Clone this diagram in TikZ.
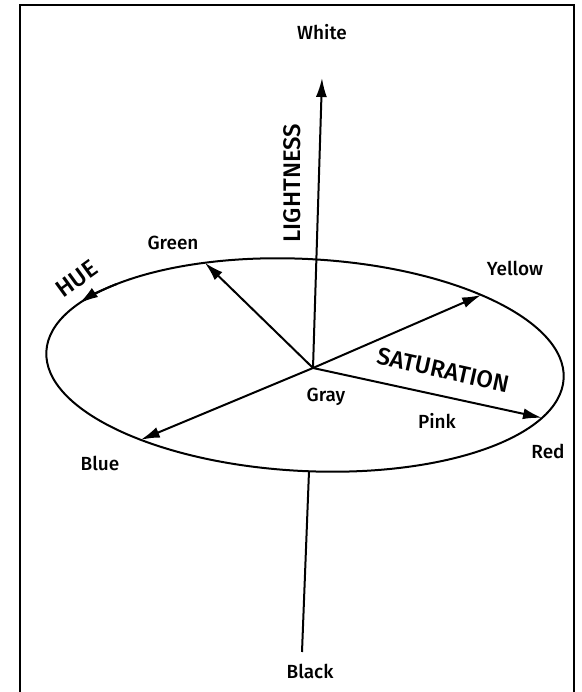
\documentclass[tikz,border=0pt]{standalone}
\usepackage{fontspec}
\setmainfont{Fira Sans}[UprightFont={* Medium}]
\usetikzlibrary{arrows.meta}

\begin{document}
\begin{tikzpicture}[x=1pt, y=1pt, every node/.style={font=\fontsize{19}{22}\selectfont, inner sep=0pt}, >={Latex[length=19pt, width=11pt]}, axis/.style={line width=2pt}, caps/.style={font=\fontsize{24}{27}\selectfont}]
	\useasboundingbox (0,0) rectangle (581,692);
	\draw[line width=2pt] (20,0) -- (20,687) -- (574,687) -- (574,0);
	\begin{scope}[shift={(305,327)}, rotate=-3]
		\draw[axis] (0,0) ellipse [x radius=259, y radius=106];
		\draw[axis, ->] (138:259 and 106) arc [start angle=138, end angle=152, x radius=259, y radius=106];
		\coordinate (green) at (114:259 and 106);
		\coordinate (yellow) at (48.3:259 and 106);
		\coordinate (red) at (-22.4:259 and 106);
		\coordinate (blue) at (231.8:259 and 106);
	\end{scope}
	\coordinate (gray) at (313,324);
	\coordinate (white) at (322,614);
	\coordinate (black) at (302,40);
	\coordinate (bottom) at (309,221);
	\foreach \c in {white,green,yellow,red,blue} {\draw[axis, ->] (gray) -- (\c);}
	\draw[axis] (black) -- (bottom);
	\node (whitelbl) at (322,660) {White};
	\node (greenlbl) at (173,449) {Green};
	\node (yellowlbl) at (515,424) {Yellow};
	\node (pinklbl) at (437,271) {Pink};
	\node (redlbl) at (548,241) {Red};
	\node (graylbl) at (326,295) {Gray};
	\node (bluelbl) at (100,229) {Blue};
	\node (blacklbl) at (310,21) {Black};
	\node[caps, rotate=90] (light) at (292,509) {LIGHTNESS};
	\node[caps, rotate=-12.5] (sat) at (443,322) {SATURATION};
	\node[caps, rotate=36] (hue) at (77,413) {HUE};
\end{tikzpicture}
\end{document}
